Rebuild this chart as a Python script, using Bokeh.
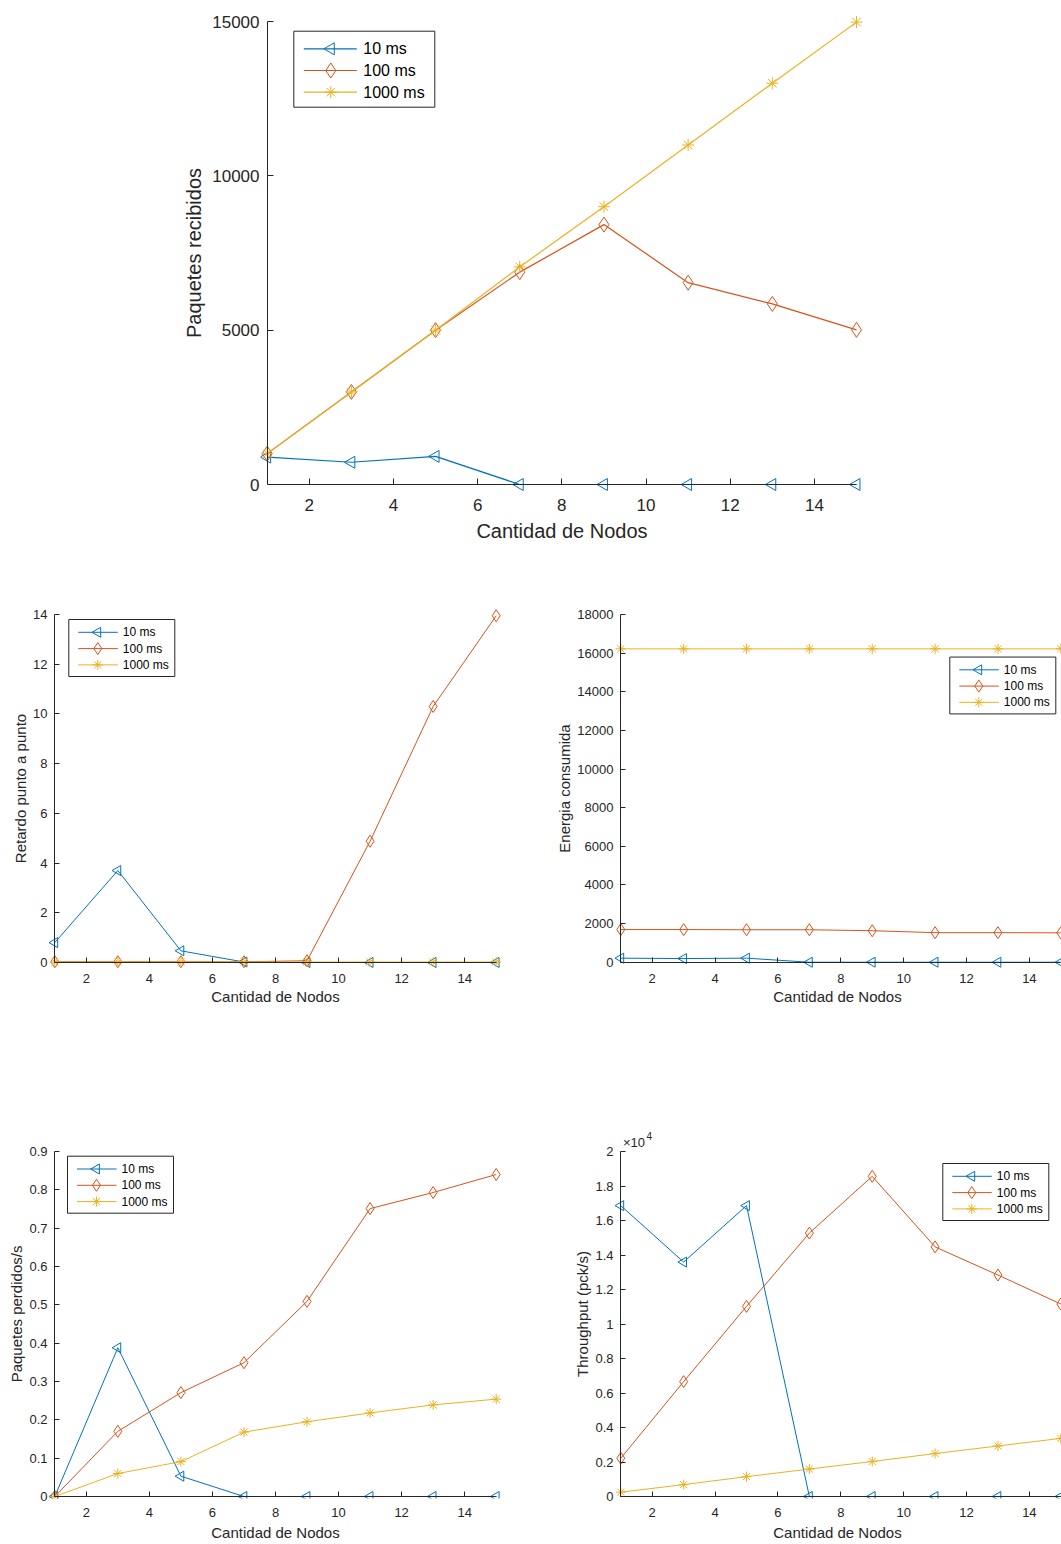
import math
from bokeh.plotting import figure
from bokeh.models import Range1d, FixedTicker, LinearAxis
from bokeh.core.properties import value
from bokeh.layouts import column, row
from bokeh.embed import file_html
from bokeh.resources import INLINE

# ---------------- data ----------------
nodos = [1, 3, 5, 7, 9, 11, 13, 15]
series_names = ["10 ms", "100 ms", "1000 ms"]
x_ticks = [2, 4, 6, 8, 10, 12, 14]

recibidos_10 = [890, 720, 910, 0, 0, 0, 0, 0]
recibidos_100 = [1000, 3000, 5000, 6880, 8420, 6540, 5850, 5010]
recibidos_1000 = [1000, 3000, 5000, 7050, 9000, 11000, 13000, 14980]

retardo_10 = [0.8, 3.7, 0.47, 0.02, 0.0, 0.0, 0.0, 0.0]
retardo_100 = [0.03, 0.03, 0.03, 0.03, 0.07, 4.88, 10.3, 13.95]
retardo_1000 = [0.02, 0.02, 0.02, 0.02, 0.02, 0.02, 0.02, 0.02]

energia_10 = [210, 190, 210, 0, 0, 0, 0, 0]
energia_100 = [1690, 1690, 1680, 1680, 1630, 1530, 1530, 1520]
energia_1000 = [16220, 16220, 16220, 16220, 16220, 16220, 16220, 16220]

perdidos_10 = [0.0, 0.388, 0.053, 0.0, 0.0, 0.0, 0.0, 0.0]
perdidos_100 = [0.0, 0.17, 0.271, 0.349, 0.509, 0.751, 0.793, 0.840]
perdidos_1000 = [0.0, 0.060, 0.091, 0.168, 0.195, 0.218, 0.239, 0.254]

throughput_10 = [16860, 13590, 16860, 0, 0, 0, 0, 0]
throughput_100 = [2220, 6660, 11020, 15270, 18560, 14470, 12840, 11160]
throughput_1000 = [250, 690, 1150, 1590, 2030, 2490, 2930, 3370]

recibidos_ticks = [0, 5000, 10000, 15000]
retardo_ticks = [0, 2, 4, 6, 8, 10, 12, 14]
energia_ticks = [0, 2000, 4000, 6000, 8000, 10000, 12000, 14000, 16000, 18000]
perdidos_ticks = [0, 0.1, 0.2, 0.3, 0.4, 0.5, 0.6, 0.7, 0.8, 0.9]
perdidos_labels = ["0", "0.1", "0.2", "0.3", "0.4", "0.5", "0.6", "0.7", "0.8", "0.9"]
throughput_ticks = [0, 2000, 4000, 6000, 8000, 10000, 12000, 14000, 16000, 18000, 20000]
throughput_labels = ["0", "0.2", "0.4", "0.6", "0.8", "1", "1.2", "1.4", "1.6", "1.8", "2"]

# ---------------- style ----------------
COLORS = ["#0072BD", "#D95319", "#EDB120"]
MARKERS = ["triangle", "diamond", "asterisk"]
FONT = "Liberation Sans"
AX = "#262626"

SMALL = dict(tick_fs="13px", lab_fs="15px", leg_fs="12px", msizes=(10, 12, 10), lw=1.0,
             tick_len=5, tick_gap_x=11, tick_gap_y=7, lab_sd_x=2, lab_sd_y=1,
             leg_w=106, leg_h=57, row0=12.8, row_dy=16.3, line_x0=9.5, line_x1=49,
             mark_x=29, text_x=54)
SMALL_B = dict(SMALL, lab_sd_x=4)
BIG = dict(tick_fs="17px", lab_fs="20px", leg_fs="16px", msizes=(12, 15, 12), lw=1.2,
           tick_len=6, tick_gap_x=14, tick_gap_y=8, lab_sd_x=6, lab_sd_y=4,
           leg_w=141, leg_h=76, row0=17.6, row_dy=21.7, line_x0=10, line_x1=63,
           mark_x=37, text_x=69.5)


def make_plot(series, ymax, yticks, ylabel, fig_w, fig_h, data_box, pads, st, legend_pos,
              ylabels=None):
    xl, xr, yt, yb = data_box          # pixel position of the data box [1,15]x[0,ymax]
    pl, pr, pt, pb = pads              # extra frame room so markers are not cut
    ppx = (xr - xl) / 14.0
    ppy = (yb - yt) / ymax
    fl, fr, ft, fb = round(xl - pl), round(xr + pr), round(yt - pt), round(yb + pb)
    x_rng = Range1d(1 - (xl - fl) / ppx, 15 + (fr - xr) / ppx)
    y_rng = Range1d(-(fb - yb) / ppy, ymax + (yt - ft) / ppy)

    p = figure(width=fig_w, height=fig_h, x_range=x_rng, y_range=y_rng,
               output_backend="svg", toolbar_location=None,
               min_border_left=fl, min_border_right=fig_w - fr,
               min_border_top=ft, min_border_bottom=fig_h - fb)
    p.outline_line_color = None
    p.xgrid.visible = False
    p.ygrid.visible = False
    p.background_fill_color = "white"
    p.border_fill_color = "white"

    xt = FixedTicker(ticks=x_ticks, minor_ticks=[])
    yt_ = FixedTicker(ticks=yticks, minor_ticks=[])
    overrides = {t: s for t, s in zip(yticks, ylabels)} if ylabels is not None else {}

    # label-only axes in the side panels
    p.xaxis.ticker = xt
    p.yaxis.ticker = yt_
    if overrides:
        p.yaxis.major_label_overrides = overrides
    p.xaxis.axis_label = "Cantidad de Nodos"
    p.yaxis.axis_label = ylabel
    for ax in (p.xaxis[0], p.yaxis[0]):
        ax.axis_line_color = None
        ax.major_tick_line_color = None
        ax.minor_tick_line_color = None
        ax.major_tick_in = 0
        ax.major_tick_out = 0
        ax.major_label_text_font = FONT
        ax.major_label_text_font_size = st["tick_fs"]
        ax.major_label_text_color = AX
        ax.axis_label_text_font = FONT
        ax.axis_label_text_font_size = st["lab_fs"]
        ax.axis_label_text_font_style = "normal"
        ax.axis_label_text_color = AX
    p.xaxis.major_label_standoff = max(0, round(st["tick_gap_x"] - (fb - yb)))
    p.yaxis.major_label_standoff = max(0, round(st["tick_gap_y"] - (xl - fl)))
    p.xaxis.axis_label_standoff = st["lab_sd_x"]
    p.yaxis.axis_label_standoff = st["lab_sd_y"]

    # axis lines + inward ticks at the data origin (MATLAB "box off")
    for side, loc, bnds, tk in (("below", 0, (1, 15), xt), ("left", 1, (0, ymax), yt_)):
        ax = LinearAxis(ticker=tk, fixed_location=loc, bounds=bnds,
                        axis_line_color=AX, axis_line_width=1,
                        major_tick_line_color=AX, major_tick_in=st["tick_len"], major_tick_out=0,
                        minor_tick_line_color=None, major_label_text_font_size="0px",
                        major_label_text_color=None, major_label_standoff=0)
        p.add_layout(ax, side)

    def X(px):
        return 1 + (px - xl) / ppx

    def Y(py):
        return (yb - py) / ppy

    for vals, color, marker, ms in zip(series, COLORS, MARKERS, st["msizes"]):
        p.line(nodos, vals, line_color=color, line_width=st["lw"])
        extra = {"angle": math.pi / 2} if marker == "triangle" else {}
        p.scatter(nodos, vals, marker=marker, size=ms, line_color=color,
                  fill_color=None, line_width=1, **extra)

    # legend box drawn like the MATLAB one
    bx, by = legend_pos
    p.quad(left=[X(bx)], right=[X(bx + st["leg_w"])], top=[Y(by)], bottom=[Y(by + st["leg_h"])],
           fill_color="white", line_color=AX, line_width=1)
    for i, (name, color, marker, ms) in enumerate(zip(series_names, COLORS, MARKERS, st["msizes"])):
        ry = Y(by + st["row0"] + i * st["row_dy"])
        p.segment(x0=[X(bx + st["line_x0"])], x1=[X(bx + st["line_x1"])], y0=[ry], y1=[ry],
                  line_color=color, line_width=st["lw"])
        extra = {"angle": math.pi / 2} if marker == "triangle" else {}
        p.scatter([X(bx + st["mark_x"])], [ry], marker=marker, size=ms, line_color=color,
                  fill_color=None, line_width=1, **extra)
        p.text(x=[X(bx + st["text_x"])], y=[ry], text=[name], text_font=value(FONT),
               text_font_size=value(st["leg_fs"]), text_color="#000000",
               text_baseline="middle", text_align="left")
    return p, X, Y


p1, _, _ = make_plot([recibidos_10, recibidos_100, recibidos_1000], 15000, recibidos_ticks,
                     "Paquetes recibidos", 1061, 568, (266.7, 856, 21, 484), (7, 7, 7, 7),
                     BIG, (293.3, 30.7))

p2, _, _ = make_plot([retardo_10, retardo_100, retardo_1000], 14, retardo_ticks,
                     "Retardo punto a punto", 540, 532, (54.3, 495.7, 46, 394), (7, 7, 7, 7),
                     SMALL, (68.3, 51))

p3, _, _ = make_plot([energia_10, energia_100, energia_1000], 18000, energia_ticks,
                     "Energia consumida", 521, 532, (80.3, 520.3, 46, 394.7), (7, 0.5, 7, 7),
                     SMALL, (409.3, 88.7))

p4, _, _ = make_plot([perdidos_10, perdidos_100, perdidos_1000], 0.9, perdidos_ticks,
                     "Paquetes perdidos/s", 540, 443, (54.3, 495.7, 51, 396), (7, 7, 22, 2),
                     SMALL_B, (67, 55.7), ylabels=perdidos_labels)

p5, X5, Y5 = make_plot([throughput_10, throughput_100, throughput_1000], 20000, throughput_ticks,
                       "Throughput (pck/s)", 521, 443, (80.3, 520.3, 51, 396), (7, 0.5, 22, 2),
                       SMALL_B, (402.3, 63), ylabels=throughput_labels)

# MATLAB exponent marker of the throughput axis
p5.text(x=[X5(82.5)], y=[Y5(42)], text=["×10"], text_font=value(FONT),
        text_font_size=value("13px"), text_color=AX, text_baseline="middle", text_align="left")
p5.text(x=[X5(106)], y=[Y5(35)], text=["4"], text_font=value(FONT),
        text_font_size=value("10px"), text_color=AX, text_baseline="middle", text_align="left")

layout = column(p1, row(p2, p3), row(p4, p5))

with open("out.html", "w") as f:
    f.write(file_html(layout, INLINE))
